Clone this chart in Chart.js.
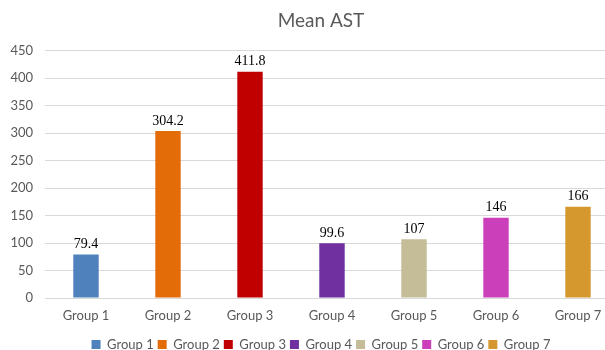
<!DOCTYPE html>
<html>
<head>
<meta charset="utf-8">
<script src="https://cdn.jsdelivr.net/npm/chart.js@4/dist/chart.umd.min.js"></script>
<style>
  html, body { margin: 0; padding: 0; background: #fff; overflow: hidden; }
  #wrap { width: 642px; height: 350px; }
</style>
</head>
<body>
<div id="wrap"><canvas id="astChart" width="642" height="350"></canvas></div>
<script>
const groups = ["Group 1", "Group 2", "Group 3", "Group 4", "Group 5", "Group 6", "Group 7"];
const meanAst = [79.4, 304.2, 411.8, 99.6, 107, 146, 166];
const barColors = ["#4F81BD", "#E36C09", "#C00000", "#7030A0", "#C4BD97", "#CC3FBB", "#D4982F"];

const GREY = "#595959";

/* ===== value labels above each bar ===== */
const valueLabels = {
  id: "valueLabels",
  afterDatasetsDraw(chart) {
    const ctx = chart.ctx;
    const meta = chart.getDatasetMeta(0);
    ctx.save();
    ctx.font = "14px 'Liberation Serif', 'Times New Roman', serif";
    ctx.fillStyle = "#000";
    ctx.textAlign = "center";
    ctx.textBaseline = "bottom";
    meta.data.forEach((bar, i) => {
      ctx.fillText(String(meanAst[i]), bar.x, bar.y - 3);
    });
    ctx.restore();
  }
};

// title + legend are centred on the whole (uncropped) chart, not the plot
const nudgeBoxes = {
  id: "nudgeBoxes",
  afterLayout(chart) {
    chart.titleBlock.left += 23;
    chart.legend.left += 23;
  }
};

new Chart(document.getElementById("astChart"), {
  type: "bar",
  data: {
    labels: groups,
    datasets: [{
      label: "Mean AST",
      data: meanAst,
      backgroundColor: barColors,
      categoryPercentage: 1,
      barPercentage: 0.31
    }]
  },
  options: {
    responsive: false,
    animation: false,
    layout: { padding: { left: 0, right: 23, top: 4, bottom: -11 } },
    plugins: {
      title: {
        display: true,
        text: "Mean AST",
        color: GREY,
        font: { family: "Lato", size: 19, weight: "normal" },
        padding: { top: 5, bottom: 19 }
      },
      legend: {
        position: "bottom",
        labels: {
          color: GREY,
          font: { family: "Lato", size: 13 },
          boxWidth: 9,
          boxHeight: 9,
          padding: 4,
          generateLabels: () => groups.map((g, i) => ({
            text: g,
            fillStyle: barColors[i],
            strokeStyle: barColors[i],
            lineWidth: 0,
            fontColor: GREY,
            index: i
          }))
        }
      },
      tooltip: { enabled: false }
    },
    scales: {
      x: {
        grid: { display: false, drawTicks: false },
        border: { display: false },
        ticks: {
          color: GREY,
          font: { family: "Lato", size: 13 },
          padding: 10
        },
        afterFit(scale) { scale.height = 36; }
      },
      y: {
        min: 0,
        max: 450,
        ticks: {
          stepSize: 50,
          color: GREY,
          font: { family: "Lato", size: 13 },
          padding: 12
        },
        grid: { color: "#d9d9d9", drawTicks: false },
        border: { display: false },
        afterFit(scale) { scale.width = 45; }
      }
    }
  },
  plugins: [valueLabels, nudgeBoxes]
});
</script>
</body>
</html>
